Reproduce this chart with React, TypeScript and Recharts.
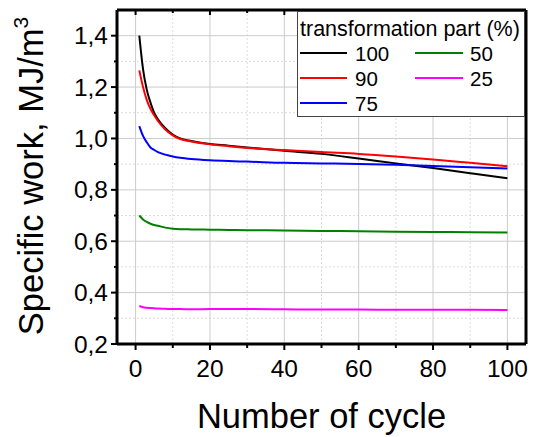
import React from 'react';
import { LineChart, Line, XAxis, YAxis, Legend, ReferenceLine, Label } from 'recharts';

const cycles = [1, 2, 3, 4, 5, 6, 8, 10, 12, 15, 20, 25, 30, 40, 50, 60, 70, 80, 90, 100];
const part100 = [1.4, 1.27, 1.19, 1.14, 1.1, 1.075, 1.04, 1.015, 1.0, 0.99, 0.978, 0.972, 0.965, 0.952, 0.94, 0.922, 0.903, 0.885, 0.865, 0.845];
const part90 = [1.265, 1.2, 1.15, 1.115, 1.09, 1.068, 1.035, 1.012, 0.998, 0.988, 0.977, 0.97, 0.963, 0.955, 0.947, 0.94, 0.93, 0.918, 0.905, 0.892];
const part75 = [1.048, 1.01, 0.985, 0.965, 0.955, 0.947, 0.937, 0.93, 0.925, 0.92, 0.915, 0.912, 0.91, 0.905, 0.903, 0.901, 0.898, 0.893, 0.888, 0.883];
const part50 = [0.7, 0.685, 0.675, 0.668, 0.663, 0.66, 0.653, 0.649, 0.647, 0.646, 0.645, 0.644, 0.643, 0.642, 0.64, 0.639, 0.637, 0.636, 0.635, 0.634];
const part25 = [0.348, 0.343, 0.341, 0.34, 0.339, 0.338, 0.337, 0.336, 0.336, 0.335, 0.336, 0.336, 0.336, 0.335, 0.334, 0.334, 0.333, 0.333, 0.333, 0.332];

const xMajor = [0, 20, 40, 60, 80, 100];
const xMinor = [10, 30, 50, 70, 90];
const yMajor = [0.2, 0.4, 0.6, 0.8, 1.0, 1.2, 1.4];
const yMinor = [0.3, 0.5, 0.7, 0.9, 1.1, 1.3];

const series = [
  { key: 'p100', name: '100', color: '#000000', values: part100 },
  { key: 'p90', name: '90', color: '#ff0000', values: part90 },
  { key: 'p75', name: '75', color: '#0000ff', values: part75 },
  { key: 'p50', name: '50', color: '#008000', values: part50 },
  { key: 'p25', name: '25', color: '#ff00ff', values: part25 },
];

const data = cycles.map((c, i) => {
  const row: Record<string, number> = { cycle: c };
  series.forEach((s) => (row[s.key] = s.values[i]));
  return row;
});

const font = '"Liberation Sans", Arial, sans-serif';
const allX = [...xMajor, ...xMinor].sort((a, b) => a - b);
const allY = [...yMajor, ...yMinor].sort((a, b) => a - b);
const frame = { stroke: '#000', strokeWidth: 3 };

const BottomTick = (props: any) => {
  const { x, y, payload } = props;
  const major = xMajor.includes(payload.value);
  return (
    <g>
      <line x1={x} x2={x} y1={y} y2={y + (major ? 6 : 4)} stroke="#000" strokeWidth={2} />
      {major && (
        <text x={x} y={y + 33} textAnchor="middle" fontSize={24.5} fontFamily={font} fill="#000">
          {payload.value}
        </text>
      )}
    </g>
  );
};

const LeftTick = (props: any) => {
  const { x, y, payload } = props;
  const major = yMajor.some((v) => Math.abs(v - payload.value) < 1e-6);
  return (
    <g>
      <line x1={x} x2={x - (major ? 6 : 3)} y1={y} y2={y} stroke="#000" strokeWidth={2} />
      {major && (
        <text x={x - 9} y={y + 8.5} textAnchor="end" fontSize={24.5} fontFamily={font} fill="#000">
          {payload.value.toFixed(1).replace('.', ',')}
        </text>
      )}
    </g>
  );
};

const TopTick = (props: any) => {
  const { x, y, payload } = props;
  const major = xMajor.includes(payload.value);
  return <line x1={x} x2={x} y1={y} y2={y + (major ? 5 : 3)} stroke="#000" strokeWidth={2} />;
};

const RightTick = (props: any) => {
  const { x, y } = props;
  return <line x1={x} x2={x - 5} y1={y} y2={y} stroke="#000" strokeWidth={2} />;
};

const LegendBox = () => {
  const col1 = series.slice(0, 3);
  const col2 = series.slice(3);
  const rows = [42, 67, 92];
  return (
    <svg width={228} height={106} style={{ display: 'block', fontFamily: font }}>
      <rect x={0.5} y={0.5} width={227} height={105} fill="#fff" stroke="#444" strokeWidth={1} />
      <text x={3} y={25} fontSize={21.5} fill="#000">transformation part (%)</text>
      {col1.map((s, i) => (
        <g key={s.key}>
          <line x1={3} x2={50} y1={rows[i]} y2={rows[i]} stroke={s.color} strokeWidth={2} />
          <text x={58} y={rows[i] + 7.5} fontSize={20.5} fill="#000">{s.name}</text>
        </g>
      ))}
      {col2.map((s, i) => (
        <g key={s.key}>
          <line x1={118} x2={166} y1={rows[i]} y2={rows[i]} stroke={s.color} strokeWidth={2} />
          <text x={173} y={rows[i] + 7.5} fontSize={20.5} fill="#000">{s.name}</text>
        </g>
      ))}
    </svg>
  );
};

export default function App() {
  return (
    <div style={{ position: 'absolute', left: 0, top: 0, background: '#fff' }}>
      <LineChart width={534} height={437} data={data} margin={{ top: 9, right: 7, left: 0, bottom: 0 }}>
        <XAxis
          xAxisId="t"
          dataKey="cycle"
          type="number"
          orientation="top"
          domain={[-5, 105]}
          ticks={allX}
          interval={0}
          height={1}
          axisLine={frame}
          tickLine={false}
          tickSize={0}
          tickMargin={0}
          tick={<TopTick />}
        />
        <YAxis
          yAxisId="r"
          type="number"
          orientation="right"
          domain={[0.2, 1.5]}
          ticks={allY}
          interval={0}
          width={1}
          axisLine={frame}
          tickLine={false}
          tickSize={0}
          tickMargin={0}
          tick={<RightTick />}
        />
        {xMinor.map((v) => (
          <ReferenceLine key={'xm' + v} x={v} stroke="#dcdcdc" strokeDasharray="2 2" />
        ))}
        {yMinor.map((v) => (
          <ReferenceLine key={'ym' + v} y={v} stroke="#dcdcdc" strokeDasharray="2 2" />
        ))}
        {xMajor.map((v) => (
          <ReferenceLine key={'xM' + v} x={v} stroke="#cccccc" />
        ))}
        {yMajor.slice(1).map((v) => (
          <ReferenceLine key={'yM' + v} y={v} stroke="#cccccc" />
        ))}
        <XAxis
          dataKey="cycle"
          type="number"
          domain={[-5, 105]}
          ticks={allX}
          interval={0}
          height={93}
          axisLine={frame}
          tickLine={false}
          tickSize={0}
          tickMargin={0}
          tick={<BottomTick />}
        >
          <Label value="Number of cycle" position="insideBottom" offset={9} fontSize={34.5} fontFamily={font} fill="#000" />
        </XAxis>
        <YAxis
          type="number"
          domain={[0.2, 1.5]}
          ticks={allY}
          interval={0}
          width={117}
          axisLine={frame}
          tickLine={false}
          tickSize={0}
          tickMargin={0}
          tick={<LeftTick />}
        >
          <Label
            content={() => (
              <text x={43} y={176} transform="rotate(-90 43 176)" textAnchor="middle" fontSize={34.5} fontFamily={font} fill="#000">
                Specific work, MJ/m<tspan dy={-15} fontSize={21}>3</tspan>
              </text>
            )}
          />
        </YAxis>
        {series.map((s) => (
          <Line
            key={s.key}
            dataKey={s.key}
            name={s.name}
            stroke={s.color}
            strokeWidth={2}
            dot={false}
            type="monotone"
            isAnimationActive={false}
          />
        ))}
        <Legend
          layout="horizontal"
          verticalAlign="middle"
          align="center"
          content={<LegendBox />}
          wrapperStyle={{ position: 'absolute', left: 297, top: 11, width: 228, height: 106 }}
        />
      </LineChart>
    </div>
  );
}
